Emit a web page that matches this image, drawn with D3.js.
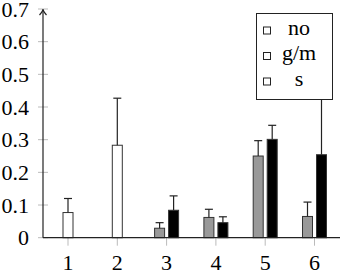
<!DOCTYPE html>
<meta charset="utf-8">
<body style="margin:0">
<div id='chart'></div>
<script src="https://cdn.jsdelivr.net/npm/d3@7"></script>
<script>

var width = 340,
    height = 274

var categories = [1, 2, 3, 4, 5, 6]
var yTicks = [0, 0.1, 0.2, 0.3, 0.4, 0.5, 0.6, 0.7]
var seriesNames = ['no', 'g/m', 's']
var seriesFill = ['white', '#999', 'black']

// values per series: category, bar height, upper error
var noCats = [1, 2]
var noVals = [0.077, 0.283]
var noErr  = [0.043, 0.144]

var gmCats = [3, 4, 5, 6]
var gmVals = [0.029, 0.062, 0.25, 0.065]
var gmErr  = [0.017, 0.025, 0.047, 0.044]

var sCats = [3, 4, 5, 6]
var sVals = [0.084, 0.046, 0.301, 0.254]
var sErr  = [0.044, 0.018, 0.043, 0.3]

var series = [
  {name: 'no', cats: noCats, vals: noVals, err: noErr},
  {name: 'g/m', cats: gmCats, vals: gmVals, err: gmErr},
  {name: 's', cats: sCats, vals: sVals, err: sErr}
]

var bars = []
series.forEach(function(s, si){
  s.cats.forEach(function(c, i){
    bars.push({cat: c, series: s.name, si: si, v: s.vals[i], e: s.err[i]})
  })
})

var x = d3.scaleLinear().domain([1, 6]).range([68, 314.5])
var y = d3.scaleLinear().domain([0, 0.7]).range([237.7, 9])
var barW = 10

// offset of each bar within its category group
function offset(d){
  var present = seriesNames.filter(function(n){
    return bars.some(function(b){ return b.cat == d.cat && b.series == n })
  })
  return d3.scalePoint().domain(present).range([-7, 7])(d.series)
}

var svg = d3.select('#chart')
  .append('svg')
    .attr('width', width)
    .attr('height', height)
    .style('display', 'block')

var x0 = 43

// tick marks
svg.selectAll('line.ytick')
    .data(yTicks)
  .enter().append('line')
    .attr('class', 'ytick')
    .attr('x1', x0 - 5).attr('x2', x0 + 5)
    .attr('y1', function(d){ return y(d) }).attr('y2', function(d){ return y(d) })
    .attr('stroke', '#bbb')

svg.selectAll('line.xtick')
    .data(categories)
  .enter().append('line')
    .attr('class', 'xtick')
    .attr('x1', function(d){ return x(d) }).attr('x2', function(d){ return x(d) })
    .attr('y1', y(0)).attr('y2', y(0) + 8)
    .attr('stroke', '#bbb')

// tick labels
svg.selectAll('text.ylab')
    .data(yTicks)
  .enter().append('text')
    .attr('class', 'ylab')
    .attr('x', 29)
    .attr('y', function(d){ return y(d) + 7.5 })
    .attr('text-anchor', 'end')
    .style('font-family', '"Times New Roman"')
    .style('font-size', '22px')
    .text(function(d){ return d === 0 ? '0' : d3.format('.1f')(d) })

svg.selectAll('text.xlab')
    .data(categories)
  .enter().append('text')
    .attr('class', 'xlab')
    .attr('x', function(d){ return x(d) })
    .attr('y', 270)
    .attr('text-anchor', 'middle')
    .style('font-family', '"Times New Roman"')
    .style('font-size', '22px')
    .text(function(d){ return d })

// bars
svg.selectAll('rect.bar')
    .data(bars)
  .enter().append('rect')
    .attr('class', 'bar')
    .attr('x', function(d){ return x(d.cat) + offset(d) - barW/2 })
    .attr('y', function(d){ return y(d.v) })
    .attr('width', barW)
    .attr('height', function(d){ return y(0) - y(d.v) })
    .attr('fill', function(d){ return seriesFill[d.si] })
    .attr('stroke', '#333')
    .attr('stroke-width', 1)

// error bars (plus only)
var eb = svg.append('g').selectAll('g')
    .data(bars)
  .enter().append('g')
    .attr('stroke', '#222')
    .attr('stroke-width', 1.2)

eb.append('line')
    .attr('x1', function(d){ return x(d.cat) + offset(d) })
    .attr('x2', function(d){ return x(d.cat) + offset(d) })
    .attr('y1', function(d){ return y(d.v) })
    .attr('y2', function(d){ return y(d.v + d.e) })

eb.append('line')
    .attr('x1', function(d){ return x(d.cat) + offset(d) - 4 })
    .attr('x2', function(d){ return x(d.cat) + offset(d) + 4 })
    .attr('y1', function(d){ return y(d.v + d.e) })
    .attr('y2', function(d){ return y(d.v + d.e) })

// axes
svg.append('line')
    .attr('x1', x0).attr('x2', width)
    .attr('y1', y(0)).attr('y2', y(0))
    .attr('stroke', '#222').attr('stroke-width', 1.2)

svg.append('line')
    .attr('x1', x0).attr('x2', x0)
    .attr('y1', y(0)).attr('y2', y(0.7) + 1)
    .attr('stroke', '#222').attr('stroke-width', 1.2)

svg.append('path')
    .attr('d', 'M' + (x0 - 3.5) + ',' + (y(0.7) + 6) + ' Q' + x0 + ',' + (y(0.7) + 2) + ' ' + x0 + ',' + y(0.7)
      + ' Q' + x0 + ',' + (y(0.7) + 2) + ' ' + (x0 + 3.5) + ',' + (y(0.7) + 6))
    .attr('fill', 'none')
    .attr('stroke', '#222').attr('stroke-width', 1.2)

// legend
svg.append('rect')
    .attr('x', 256.5).attr('y', 13.5)
    .attr('width', 76).attr('height', 86)
    .attr('fill', 'white')
    .attr('stroke', '#222')

svg.selectAll('rect.key')
    .data(seriesNames)
  .enter().append('rect')
    .attr('class', 'key')
    .attr('x', 263.5)
    .attr('y', function(d, i){ return 27 + i * 25.5 })
    .attr('width', 7).attr('height', 7)
    .attr('fill', 'white')
    .attr('stroke', '#222')

svg.selectAll('text.key')
    .data(seriesNames)
  .enter().append('text')
    .attr('class', 'key')
    .attr('x', 299)
    .attr('y', function(d, i){ return 34.5 + i * 25.5 })
    .attr('text-anchor', 'middle')
    .style('font-family', '"Times New Roman"')
    .style('font-size', '22px')
    .text(function(d){ return d })

</script>
